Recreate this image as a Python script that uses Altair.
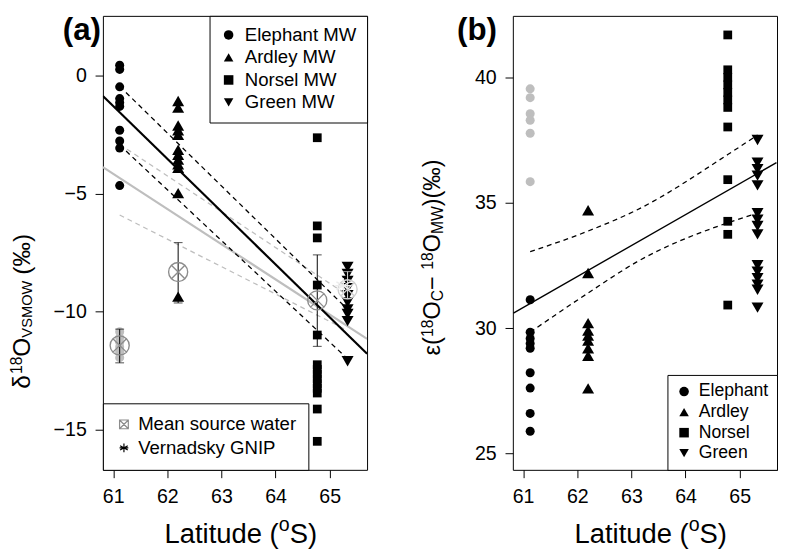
import altair as alt
import pandas as pd

FONT = "Liberation Sans"

# ---------------- data: panel (a) ----------------
site_lat = {"Elephant": 61.12, "Ardley": 62.2, "Norsel": 64.77, "Green": 65.33}
eleph_a = [0.46, 0.28, -0.46, -0.96, -1.13, -1.29, -2.30, -2.76, -3.06, -4.65]
ardley_a = [-1.06, -1.34, -2.1, -2.3, -2.5, -3.13, -3.34, -3.55, -3.75, -3.9, -4.97, -9.36]
norsel_a = [-2.62, -6.36, -6.87, -8.87, -10.99, -12.25, -12.45, -12.65, -12.85, -13.05,
            -13.25, -13.45, -14.13, -15.5]
green_a = [-8.1, -8.4, -8.7, -9.0, -9.3, -9.6, -9.9, -10.1, -10.4, -12.1]
eleph_src_a = [-10.85, -11.1, -11.3, -11.5, -11.7, -11.95]

msw_lat = [61.12, 62.2, 64.77]
msw_mean = [-11.43, -8.32, -9.52]
msw_lo = [-12.17, -9.63, -11.47]
msw_hi = [-10.74, -7.07, -7.59]
green_msw_lat = [65.33]
green_msw_mean = [-9.05]
green_msw_lo = [-9.45]
green_msw_hi = [-8.3]
gnip_lat = [65.25]
gnip_val = [-8.9]

fit_a_lat = [60.81, 65.69]
fit_a_val = [-0.85, -11.78]
ci_a_up_lat = [61.12, 65.33]
ci_a_up_val = [-0.44, -9.9]
ci_a_lo_lat = [61.12, 65.33]
ci_a_lo_val = [-2.93, -12.0]
gfit_a_lat = [60.81, 65.69]
gfit_a_val = [-3.87, -11.15]
gci_a_up_lat = [61.12, 65.33]
gci_a_up_val = [-2.9, -9.3]
gci_a_lo_lat = [61.12, 65.33]
gci_a_lo_val = [-5.9, -10.8]

# ---------------- data: panel (b) ----------------
eleph_b = [31.13, 29.84, 29.59, 29.39, 29.2, 28.22, 27.61, 26.6, 25.89]
eleph_grey_b = [39.54, 39.19, 38.55, 38.29, 37.77, 35.84]
ardley_b = [34.7, 32.2, 30.2, 29.9, 29.7, 29.5, 29.2, 28.9, 27.6]
norsel_b = [41.69, 40.3, 40.0, 39.7, 39.4, 39.1, 38.8, 38.02, 35.92, 34.26, 33.74, 30.92]
green_b = [37.5, 36.6, 36.34, 36.08, 35.69, 34.58, 34.32, 34.07, 33.74, 32.51, 32.25,
           31.99, 31.73, 31.53, 30.82]
lat_b = {"Elephant": 61.13, "Ardley": 62.2, "Norsel": 64.78, "Green": 65.33}

fit_b_lat = [60.82, 65.68]
fit_b_val = [30.6, 36.6]
ci_b_up_lat = [61.13, 62.2, 63.1, 64.78, 65.33]
ci_b_up_val = [33.05, 33.87, 34.71, 36.92, 37.7]
ci_b_lo_lat = [61.13, 62.2, 63.1, 64.78, 65.33]
ci_b_lo_val = [29.84, 31.4, 32.64, 34.2, 34.58]

sites = ["Elephant", "Ardley", "Norsel", "Green"]
sites_mw = ["Elephant MW", "Ardley MW", "Norsel MW", "Green MW"]
shapes = ["circle", "triangle-up", "square", "triangle-down"]
legend2_labels = ["Mean source water", "Vernadsky GNIP"]

XDOM = [60.81, 65.69]
YDOM_A = [-16.71, 2.55]
YDOM_B = [24.35, 42.45]
W, H = 270, 464
SHAPE_SIZES = [85, 150, 80, 150]

CIRCLE_X = "M1,0A1,1 0 1,1 -1,0A1,1 0 1,1 1,0Z M-0.707,-0.707L0.707,0.707 M0.707,-0.707L-0.707,0.707"
SQUARE_X = "M-1,-1L1,-1L1,1L-1,1Z M-1,-1L1,1 M1,-1L-1,1"
ASTER = "M0,-1L0,1 M-0.87,-0.5L0.87,0.5 M-0.87,0.5L0.87,-0.5 M-1,0L1,0"

one = pd.DataFrame({"k": [0]})


def xenc():
    return alt.X("lat:Q", scale=alt.Scale(domain=XDOM, nice=False, zero=False),
                 axis=alt.Axis(values=[61, 62, 63, 64, 65], title=None))


def yenc(dom, vals, field="val"):
    return alt.Y(f"{field}:Q", scale=alt.Scale(domain=dom, nice=False, zero=False),
                 axis=alt.Axis(values=vals, title=None))


def line(lat, val, dom, vals, color, width, dash=None, interp="linear"):
    df = pd.DataFrame({"lat": lat, "val": val})
    kw = dict(color=color, strokeWidth=width, clip=True, interpolate=interp)
    if dash:
        kw["strokeDash"] = dash
    return alt.Chart(df).mark_line(**kw).encode(x=xenc(), y=yenc(dom, vals))


def txt(s, x, y, size, angle=270, weight="normal", baseline="alphabetic"):
    return alt.Chart(one).mark_text(text=s, font=FONT, fontSize=size, fontWeight=weight,
                                    angle=angle, align="left", baseline=baseline,
                                    color="black").encode(x=alt.value(x), y=alt.value(y))


WID = {"δ": 0.556, "ε": 0.45, "(": 0.333, ")": 0.333, "‰": 1.0, "O": 0.778, "C": 0.722,
       "V": 0.667, "S": 0.667, "M": 0.833, "W": 0.944, "1": 0.556, "8": 0.556, "−": 0.584,
       " ": 0.278, "L": 0.556, "a": 0.556, "t": 0.278, "i": 0.222, "u": 0.556, "d": 0.556,
       "e": 0.556, "o": 0.556}


def tw(s, size):
    return sum(WID.get(c, 0.556) for c in s) * size


def rich_vertical(pieces, x0, y0):
    """pieces: (text, size, shift, gap) laid out bottom-to-top, rotated 270."""
    layers = []
    y = y0
    for s, size, shift, gap in pieces:
        y -= gap
        layers.append(txt(s, x0 + shift, y, size))
        y -= tw(s, size)
    return layers


def rich_horizontal(pieces, x0, y0):
    layers = []
    x = x0
    for s, size, shift in pieces:
        layers.append(txt(s, x, y0 + shift, size, angle=0))
        x += tw(s, size)
    return layers


def xtitle():
    return rich_horizontal([("Latitude (", 28, 0), ("o", 20, -12), ("S)", 28, 0)], 63, H + 75)


VA = [0, -5, -10, -15]
VB = [25, 30, 35, 40]


def site_points(lat_map, value_lists, dom, vals):
    layers = []
    for s, v, shp, sz in zip(sites, value_lists, shapes, SHAPE_SIZES):
        df = pd.DataFrame({"lat": [lat_map[s]] * len(v), "val": v})
        layers.append(alt.Chart(df).mark_point(shape=shp, size=sz, filled=True, color="black",
                                               opacity=1, strokeWidth=0).encode(
            x=xenc(), y=yenc(dom, vals)))
    return layers


def site_legend_layer(labels, lat_map, dom, vals, orient, fsize, pad, offset):
    df = pd.DataFrame({"lat": [lat_map[s] for s in sites], "val": [dom[0]] * 4,
                       "site": labels})
    leg = alt.Legend(orient=orient, offset=0, title=None, padding=pad,
                     strokeColor="black", fillColor="white", labelFontSize=fsize,
                     labelFont=FONT, symbolFillColor="black", symbolStrokeWidth=0,
                     symbolOpacity=1, symbolSize=95, rowPadding=3, labelOffset=offset,
                     labelColor="black", cornerRadius=0, labelLimit=0)
    return alt.Chart(df).mark_point(filled=True, opacity=0, color="black").encode(
        x=xenc(), y=yenc(dom, vals),
        shape=alt.Shape("site:N", scale=alt.Scale(domain=labels, range=shapes), legend=leg))


# ---------- panel (a) ----------
points_a = site_points(site_lat, [eleph_a, ardley_a, norsel_a, green_a], YDOM_A, VA)
legend_a = site_legend_layer(sites_mw, site_lat, YDOM_A, VA, "top-right", 19, 10, 7)

src_a = alt.Chart(pd.DataFrame({"lat": [site_lat["Elephant"]] * len(eleph_src_a),
                                "val": eleph_src_a})).mark_circle(
    color="#bebebe", opacity=1, size=85).encode(x=xenc(), y=yenc(YDOM_A, VA))

msw_df = pd.DataFrame({"lat": msw_lat, "val": msw_mean, "lo": msw_lo, "hi": msw_hi})
gmsw_df = pd.DataFrame({"lat": green_msw_lat, "val": green_msw_mean, "lo": green_msw_lo,
                        "hi": green_msw_hi})


def errbars(df, color):
    base = alt.Chart(df)
    r = base.mark_rule(color=color, strokeWidth=1).encode(
        x=xenc(), y=yenc(YDOM_A, VA, "lo"), y2="hi:Q")
    t1 = base.mark_tick(orient="horizontal", size=9, thickness=1, color=color).encode(
        x=xenc(), y=yenc(YDOM_A, VA, "lo"))
    t2 = base.mark_tick(orient="horizontal", size=9, thickness=1, color=color).encode(
        x=xenc(), y=yenc(YDOM_A, VA, "hi"))
    return [r, t1, t2]


msw_marks = alt.Chart(msw_df).mark_point(shape=CIRCLE_X, size=380, color="#8c8c8c",
                                         filled=False, strokeWidth=1.4, opacity=1).encode(
    x=xenc(), y=yenc(YDOM_A, VA))
gmsw_marks = alt.Chart(gmsw_df).mark_point(shape=CIRCLE_X, size=380, color="#cfcfcf",
                                           filled=False, strokeWidth=1.4, opacity=1).encode(
    x=xenc(), y=yenc(YDOM_A, VA))
gnip_marks = alt.Chart(pd.DataFrame({"lat": gnip_lat, "val": gnip_val})).mark_point(
    shape=ASTER, size=260, color="#ececec", filled=False, strokeWidth=1.4, opacity=1).encode(
    x=xenc(), y=yenc(YDOM_A, VA))

leg2_df = pd.DataFrame({"lat": [msw_lat[0], gnip_lat[0]], "val": [msw_mean[0], gnip_val[0]],
                        "kind": legend2_labels})
leg2_spec = alt.Legend(orient="bottom-left", offset=0, title=None, padding=12,
                       strokeColor="black", fillColor="white", labelFontSize=19,
                       labelFont=FONT, symbolSize=80, symbolOpacity=1, rowPadding=4,
                       labelOffset=5, labelColor="black", cornerRadius=0,
                       symbolStrokeWidth=1.2, labelLimit=0)
leg2 = alt.Chart(leg2_df).mark_point(filled=False, opacity=0, size=80).encode(
    x=xenc(), y=yenc(YDOM_A, VA),
    shape=alt.Shape("kind:N", scale=alt.Scale(domain=legend2_labels, range=[SQUARE_X, ASTER]),
                    legend=leg2_spec),
    color=alt.Color("kind:N", scale=alt.Scale(domain=legend2_labels, range=["#8c8c8c", "black"]),
                    legend=leg2_spec))

lines_a = [
    line(gfit_a_lat, gfit_a_val, YDOM_A, VA, "#bebebe", 2.2),
    line(gci_a_up_lat, gci_a_up_val, YDOM_A, VA, "#bebebe", 1.3, [5, 4]),
    line(gci_a_lo_lat, gci_a_lo_val, YDOM_A, VA, "#bebebe", 1.3, [5, 4]),
    line(fit_a_lat, fit_a_val, YDOM_A, VA, "black", 2.2),
    line(ci_a_up_lat, ci_a_up_val, YDOM_A, VA, "black", 1.3, [5, 4]),
    line(ci_a_lo_lat, ci_a_lo_val, YDOM_A, VA, "black", 1.3, [5, 4]),
]

title_a = rich_vertical([("δ", 25, 0, 0), ("18", 16, -8, 1), ("O", 25, 0, 0),
                         ("VSMOW", 15, 3, 0), ("(‰)", 25, 0, 6)], -75, 381)

panel_a = alt.layer(
    *lines_a, src_a, *points_a, *errbars(msw_df, "black"), msw_marks,
    *errbars(gmsw_df, "#e0e0e0"), gmsw_marks, gnip_marks, legend_a, leg2,
    txt("(a)", -41, 0, 32, angle=0, weight="bold", baseline="top"),
    *title_a, *xtitle()
).resolve_scale(shape="independent", color="independent").properties(width=W, height=H)

# ---------- panel (b) ----------
points_b = site_points(lat_b, [eleph_b, ardley_b, norsel_b, green_b], YDOM_B, VB)
legend_b = site_legend_layer(sites, lat_b, YDOM_B, VB, "bottom-right", 18, 8, 6)

grey_b = alt.Chart(pd.DataFrame({"lat": [lat_b["Elephant"]] * len(eleph_grey_b),
                                 "val": eleph_grey_b})).mark_circle(
    color="#bebebe", opacity=1, size=85).encode(x=xenc(), y=yenc(YDOM_B, VB))

lines_b = [
    line(fit_b_lat, fit_b_val, YDOM_B, VB, "black", 1.4),
    line(ci_b_up_lat, ci_b_up_val, YDOM_B, VB, "black", 1.3, [5, 4], "monotone"),
    line(ci_b_lo_lat, ci_b_lo_val, YDOM_B, VB, "black", 1.3, [5, 4], "monotone"),
]

title_b = rich_vertical([("ε(", 24, 0, 0), ("18", 16, -8, 0), ("O", 24, 0, 0),
                         ("C", 16, 3, 0), ("− ", 24, 0, 0), ("18", 16, -8, 0),
                         ("O", 24, 0, 0), ("MW", 16, 3, 0), (")(‰)", 24, 0, 0)], -74, 347)

panel_b = alt.layer(
    *lines_b, grey_b, *points_b, legend_b,
    txt("(b)", -57, 0, 32, angle=0, weight="bold", baseline="top"),
    *title_b, *xtitle()
).properties(width=W, height=H)

chart = alt.hconcat(panel_a, panel_b, spacing=149, bounds="flush").resolve_scale(
    y="independent", shape="independent", color="independent"
).resolve_legend(shape="independent", color="independent").configure(
    padding=0, background="white"
).configure_view(stroke="black", strokeWidth=1).configure_axis(
    labelFont=FONT, labelFontSize=20, labelColor="black", tickColor="black", tickSize=8,
    tickWidth=1, domain=False, grid=False, labelPadding=9, titleFont=FONT,
    titleColor="black", labelFlush=False
)

chart.save("out.html", embed_options={"renderer": "svg", "actions": False})
